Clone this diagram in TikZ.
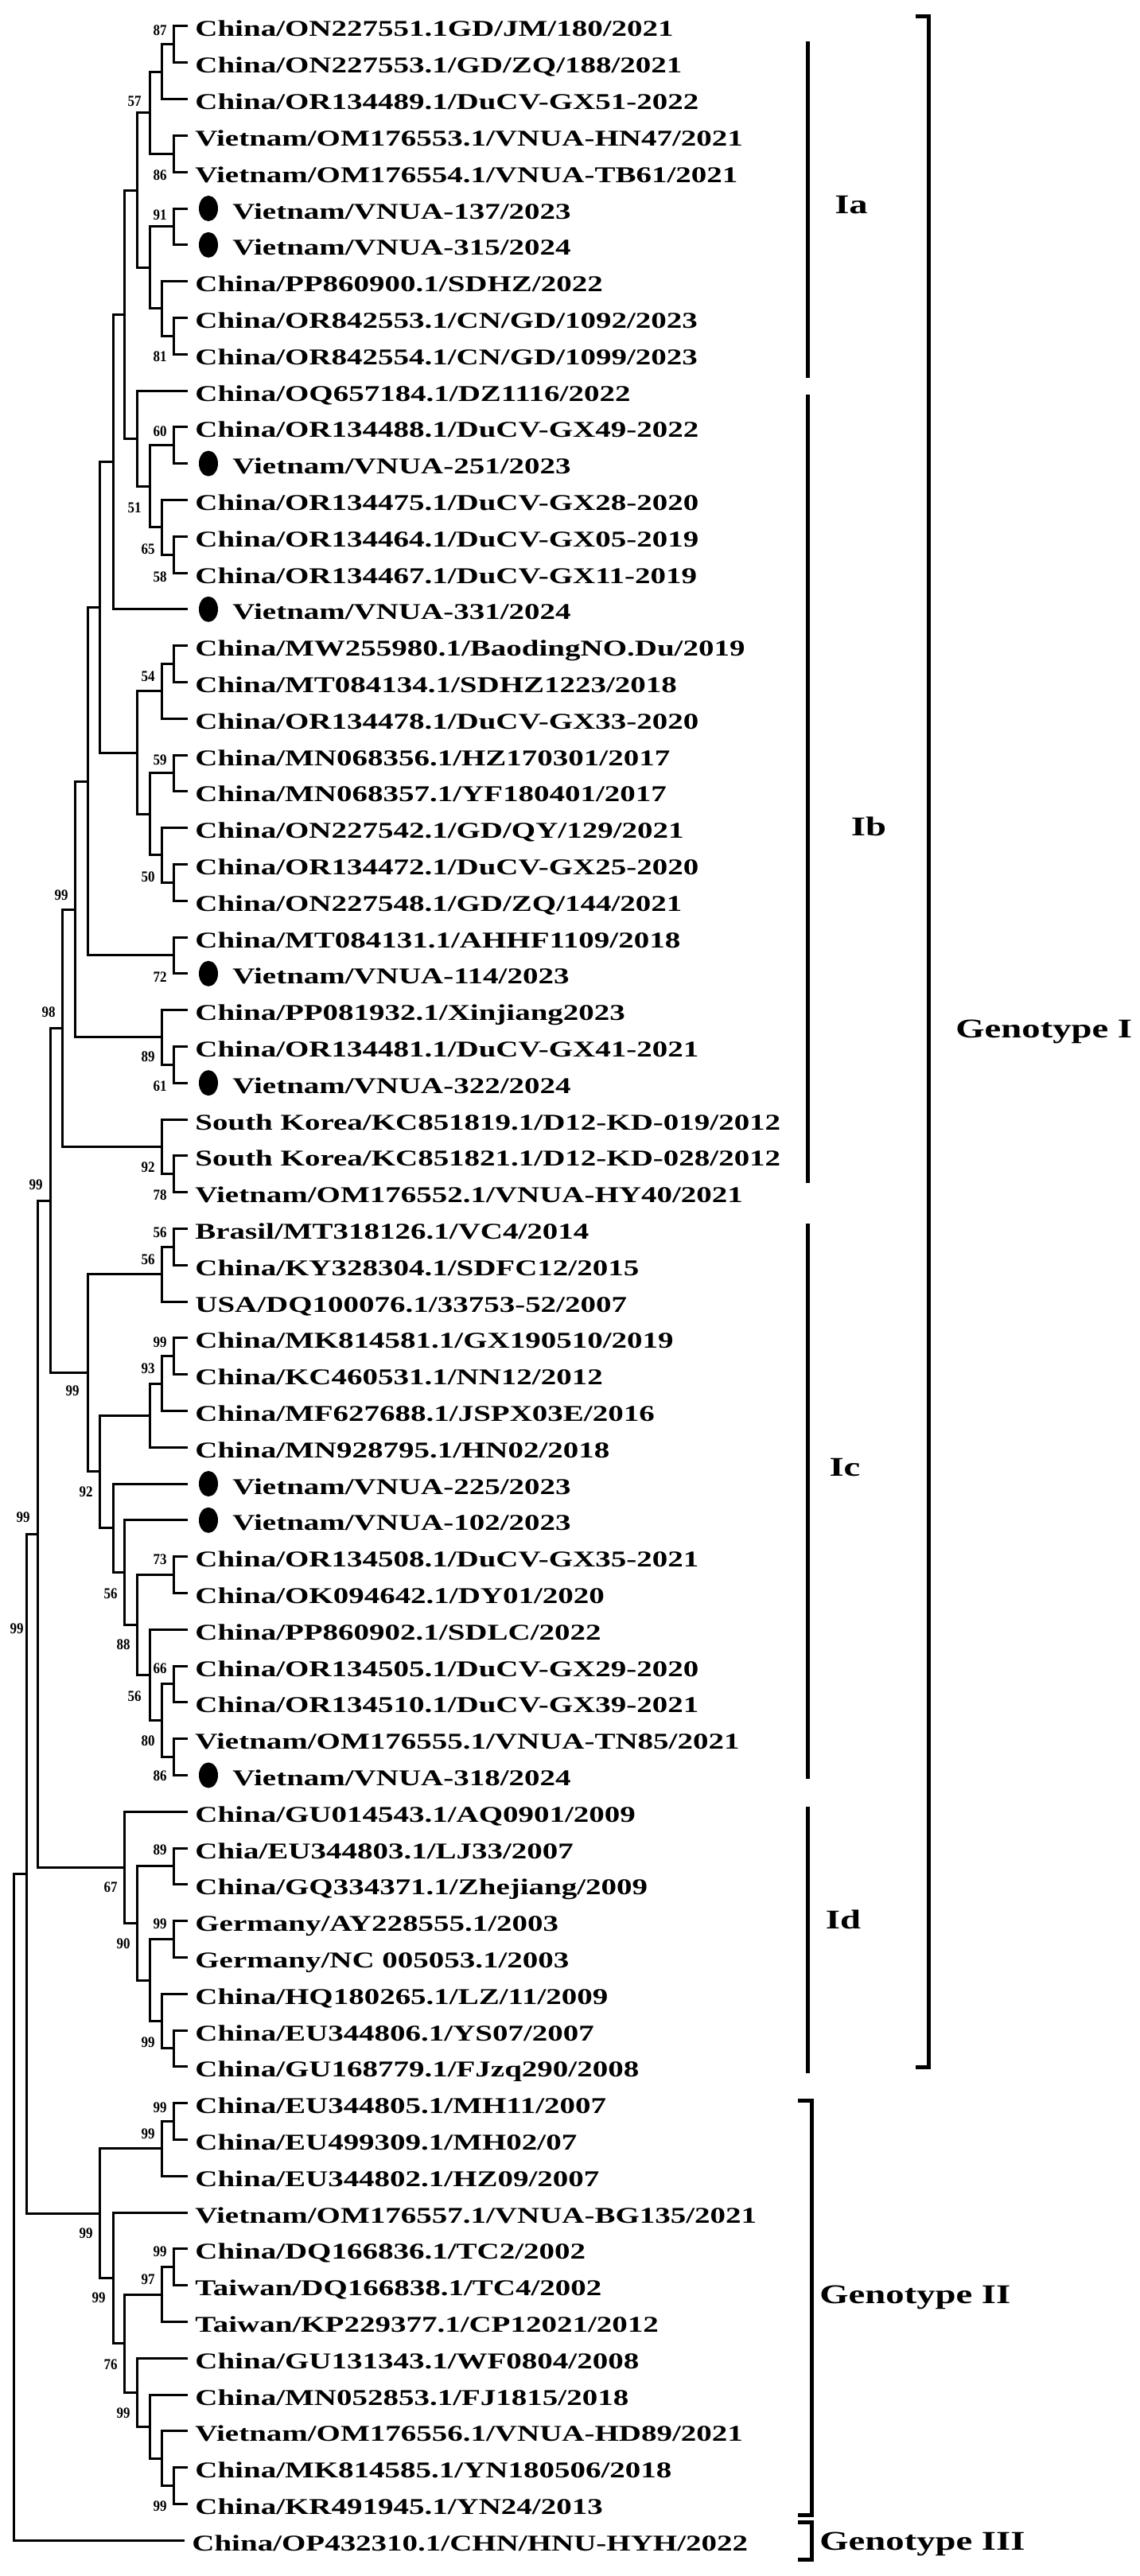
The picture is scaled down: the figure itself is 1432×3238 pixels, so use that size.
\documentclass[tikz,border=0pt]{standalone}
\usepackage{fontspec}
\setmainfont{Liberation Serif}[FakeStretch=1.373]
\newfontfamily\bootfamily{Liberation Serif}[FakeStretch=0.885]
\usepackage{tikz}
\usetikzlibrary{shapes}
\newcommand{\pxunit}{0.5pt}
\newcommand{\taxonfont}{\bfseries\fontsize{14.2}{14.2}\selectfont}
\newcommand{\bootfont}{\bootfamily\bfseries\fontsize{9.6}{9.6}\selectfont}
\newcommand{\cladefont}{\bfseries\fontsize{17}{17}\selectfont}
\tikzstyle{taxon}=[anchor=west,inner xsep=4.5pt,inner ysep=0pt,text height=15pt,text depth=2pt,font=\taxonfont]
\tikzstyle{isolate}=[ellipse,fill=black,minimum width=12pt,minimum height=16pt,inner sep=0pt]
\tikzstyle{boot}=[anchor=east,inner sep=0pt,font=\bootfont]
\tikzstyle{branch}=[line width=1.5pt]
\tikzstyle{cladebar}=[line width=2.5pt]
\tikzstyle{cladename}=[inner sep=0pt,font=\cladefont]
\begin{document}
\begin{tikzpicture}[x=\pxunit,y=-\pxunit]
    \useasboundingbox (0,0) rectangle (1432,3238);
    % taxa
    \node[taxon] (t1) at (236,33)     {China/ON227551.1GD/JM/180/2021};
    \node[taxon] (t2) at (236,78.8)   {China/ON227553.1/GD/ZQ/188/2021};
    \node[taxon] (t3) at (236,124.6)  {China/OR134489.1/DuCV-GX51-2022};
    \node[taxon] (t4) at (236,170.4)  {Vietnam/OM176553.1/VNUA-HN47/2021};
    \node[taxon] (t5) at (236,216.2)  {Vietnam/OM176554.1/VNUA-TB61/2021};
    \node[taxon] (t6) at (236,262)    {\hspace*{23.5pt}Vietnam/VNUA-137/2023};
    \node[taxon] (t7) at (236,307.8)  {\hspace*{23.5pt}Vietnam/VNUA-315/2024};
    \node[taxon] (t8) at (236,353.6)  {China/PP860900.1/SDHZ/2022};
    \node[taxon] (t9) at (236,399.4)  {China/OR842553.1/CN/GD/1092/2023};
    \node[taxon] (t10) at (236,445.2) {China/OR842554.1/CN/GD/1099/2023};
    \node[taxon] (t11) at (236,491)   {China/OQ657184.1/DZ1116/2022};
    \node[taxon] (t12) at (236,536.8) {China/OR134488.1/DuCV-GX49-2022};
    \node[taxon] (t13) at (236,582.6) {\hspace*{23.5pt}Vietnam/VNUA-251/2023};
    \node[taxon] (t14) at (236,628.4) {China/OR134475.1/DuCV-GX28-2020};
    \node[taxon] (t15) at (236,674.2) {China/OR134464.1/DuCV-GX05-2019};
    \node[taxon] (t16) at (236,720)   {China/OR134467.1/DuCV-GX11-2019};
    \node[taxon] (t17) at (236,765.8) {\hspace*{23.5pt}Vietnam/VNUA-331/2024};
    \node[taxon] (t18) at (236,811.6) {China/MW255980.1/BaodingNO.Du/2019};
    \node[taxon] (t19) at (236,857.4) {China/MT084134.1/SDHZ1223/2018};
    \node[taxon] (t20) at (236,903.2) {China/OR134478.1/DuCV-GX33-2020};
    \node[taxon] (t21) at (236,949)   {China/MN068356.1/HZ170301/2017};
    \node[taxon] (t22) at (236,994.8) {China/MN068357.1/YF180401/2017};
    \node[taxon] (t23) at (236,1040.6) {China/ON227542.1/GD/QY/129/2021};
    \node[taxon] (t24) at (236,1086.4) {China/OR134472.1/DuCV-GX25-2020};
    \node[taxon] (t25) at (236,1132.2) {China/ON227548.1/GD/ZQ/144/2021};
    \node[taxon] (t26) at (236,1178)   {China/MT084131.1/AHHF1109/2018};
    \node[taxon] (t27) at (236,1223.8) {\hspace*{23.5pt}Vietnam/VNUA-114/2023};
    \node[taxon] (t28) at (236,1269.6) {China/PP081932.1/Xinjiang2023};
    \node[taxon] (t29) at (236,1315.4) {China/OR134481.1/DuCV-GX41-2021};
    \node[taxon] (t30) at (236,1361.2) {\hspace*{23.5pt}Vietnam/VNUA-322/2024};
    \node[taxon] (t31) at (236,1407)   {South Korea/KC851819.1/D12-KD-019/2012};
    \node[taxon] (t32) at (236,1452.8) {South Korea/KC851821.1/D12-KD-028/2012};
    \node[taxon] (t33) at (236,1498.6) {Vietnam/OM176552.1/VNUA-HY40/2021};
    \node[taxon] (t34) at (236,1544.4) {Brasil/MT318126.1/VC4/2014};
    \node[taxon] (t35) at (236,1590.2) {China/KY328304.1/SDFC12/2015};
    \node[taxon] (t36) at (236,1636)   {USA/DQ100076.1/33753-52/2007};
    \node[taxon] (t37) at (236,1681.8) {China/MK814581.1/GX190510/2019};
    \node[taxon] (t38) at (236,1727.6) {China/KC460531.1/NN12/2012};
    \node[taxon] (t39) at (236,1773.4) {China/MF627688.1/JSPX03E/2016};
    \node[taxon] (t40) at (236,1819.2) {China/MN928795.1/HN02/2018};
    \node[taxon] (t41) at (236,1865)   {\hspace*{23.5pt}Vietnam/VNUA-225/2023};
    \node[taxon] (t42) at (236,1910.8) {\hspace*{23.5pt}Vietnam/VNUA-102/2023};
    \node[taxon] (t43) at (236,1956.6) {China/OR134508.1/DuCV-GX35-2021};
    \node[taxon] (t44) at (236,2002.4) {China/OK094642.1/DY01/2020};
    \node[taxon] (t45) at (236,2048.2) {China/PP860902.1/SDLC/2022};
    \node[taxon] (t46) at (236,2094)   {China/OR134505.1/DuCV-GX29-2020};
    \node[taxon] (t47) at (236,2139.8) {China/OR134510.1/DuCV-GX39-2021};
    \node[taxon] (t48) at (236,2185.6) {Vietnam/OM176555.1/VNUA-TN85/2021};
    \node[taxon] (t49) at (236,2231.4) {\hspace*{23.5pt}Vietnam/VNUA-318/2024};
    \node[taxon] (t50) at (236,2277.2) {China/GU014543.1/AQ0901/2009};
    \node[taxon] (t51) at (236,2323)   {Chia/EU344803.1/LJ33/2007};
    \node[taxon] (t52) at (236,2368.8) {China/GQ334371.1/Zhejiang/2009};
    \node[taxon] (t53) at (236,2414.6) {Germany/AY228555.1/2003};
    \node[taxon] (t54) at (236,2460.4) {Germany/NC 005053.1/2003};
    \node[taxon] (t55) at (236,2506.2) {China/HQ180265.1/LZ/11/2009};
    \node[taxon] (t56) at (236,2552)   {China/EU344806.1/YS07/2007};
    \node[taxon] (t57) at (236,2597.8) {China/GU168779.1/FJzq290/2008};
    \node[taxon] (t58) at (236,2643.6) {China/EU344805.1/MH11/2007};
    \node[taxon] (t59) at (236,2689.4) {China/EU499309.1/MH02/07};
    \node[taxon] (t60) at (236,2735.2) {China/EU344802.1/HZ09/2007};
    \node[taxon] (t61) at (236,2781)   {Vietnam/OM176557.1/VNUA-BG135/2021};
    \node[taxon] (t62) at (236,2826.8) {China/DQ166836.1/TC2/2002};
    \node[taxon] (t63) at (236,2872.6) {Taiwan/DQ166838.1/TC4/2002};
    \node[taxon] (t64) at (236,2918.4) {Taiwan/KP229377.1/CP12021/2012};
    \node[taxon] (t65) at (236,2964.2) {China/GU131343.1/WF0804/2008};
    \node[taxon] (t66) at (236,3010)   {China/MN052853.1/FJ1815/2018};
    \node[taxon] (t67) at (236,3055.8) {Vietnam/OM176556.1/VNUA-HD89/2021};
    \node[taxon] (t68) at (236,3101.6) {China/MK814585.1/YN180506/2018};
    \node[taxon] (t69) at (236,3147.4) {China/KR491945.1/YN24/2013};
    \node[taxon] (t70) at (232,3193.2) {China/OP432310.1/CHN/HNU-HYH/2022};
    % isolates of this study
    \foreach \k in {6,7,13,17,27,30,41,42,49}
        \node[isolate] (d\k) at ([xshift=13pt]t\k.west) {};
    % internal nodes, Ia
    \coordinate (a1) at (218,55.9);
    \coordinate (a2) at (203,90.25);
    \coordinate (a3) at (218,193.3);
    \coordinate (a4) at (188,141.8);
    \coordinate (a5) at (218,284.9);
    \coordinate (a6) at (218,422.3);
    \coordinate (a7) at (203,387.95);
    \coordinate (a8) at (188,336.4);
    \coordinate (a9) at (172,239.1);
    % Ib
    \coordinate (b1) at (218,559.7);
    \coordinate (b2) at (218,697.1);
    \coordinate (b3) at (203,662.75);
    \coordinate (b4) at (188,611.2);
    \coordinate (b5) at (172,551.1);
    \coordinate (b6) at (156,395.1);
    \coordinate (b7) at (142,580.45);
    \coordinate (b8) at (218,834.5);
    \coordinate (b9) at (203,868.85);
    \coordinate (b10) at (218,971.9);
    \coordinate (b11) at (218,1109.3);
    \coordinate (b12) at (203,1074.95);
    \coordinate (b13) at (188,1023.4);
    \coordinate (b14) at (172,946.1);
    \coordinate (b15) at (125,763.3);
    \coordinate (b16) at (218,1200.9);
    \coordinate (b17) at (110,982.1);
    \coordinate (b18) at (218,1338.3);
    \coordinate (b19) at (203,1303.95);
    \coordinate (b20) at (94,1143);
    \coordinate (b21) at (218,1475.7);
    \coordinate (b22) at (203,1441.35);
    \coordinate (b23) at (78,1292.2);
    % Ic
    \coordinate (c1) at (218,1567.3);
    \coordinate (c2) at (203,1601.65);
    \coordinate (c3) at (218,1704.7);
    \coordinate (c4) at (203,1739.05);
    \coordinate (c5) at (188,1779.1);
    \coordinate (c6) at (218,1979.5);
    \coordinate (c7) at (218,2116.9);
    \coordinate (c8) at (218,2208.5);
    \coordinate (c9) at (203,2162.7);
    \coordinate (c10) at (188,2105.45);
    \coordinate (c11) at (172,2042.5);
    \coordinate (c12) at (156,1976.65);
    \coordinate (c13) at (142,1920.8);
    \coordinate (c14) at (125,1849.95);
    \coordinate (c15) at (110,1725.8);
    \coordinate (c16) at (63,1509);
    % Id
    \coordinate (d1) at (218,2345.9);
    \coordinate (d2) at (218,2437.5);
    \coordinate (d3) at (218,2574.9);
    \coordinate (d4) at (203,2540.55);
    \coordinate (d5) at (188,2489);
    \coordinate (d6) at (172,2417.45);
    \coordinate (d7) at (156,2347.3);
    \coordinate (d8) at (47,1928.15);
    % genotype II and root
    \coordinate (e1) at (218,2666.5);
    \coordinate (e2) at (203,2700.85);
    \coordinate (e3) at (218,2849.7);
    \coordinate (e4) at (203,2884.05);
    \coordinate (e5) at (218,3124.5);
    \coordinate (e6) at (203,3090.15);
    \coordinate (e7) at (188,3050.1);
    \coordinate (e8) at (172,3007.15);
    \coordinate (e9) at (156,2945.6);
    \coordinate (e10) at (142,2863.3);
    \coordinate (e11) at (125,2782.1);
    \coordinate (f1) at (33,2355.1);
    \coordinate (root) at (17,2774.2);
    % branches
    \draw[branch] (t1) -| (a1) |- (t2);
    \draw[branch] (a1) -| (a2) |- (t3);
    \draw[branch] (t4) -| (a3) |- (t5);
    \draw[branch] (a2) -| (a4) |- (a3);
    \draw[branch] (t6) -| (a5) |- (t7);
    \draw[branch] (t9) -| (a6) |- (t10);
    \draw[branch] (t8) -| (a7) |- (a6);
    \draw[branch] (a5) -| (a8) |- (a7);
    \draw[branch] (a4) -| (a9) |- (a8);
    \draw[branch] (t12) -| (b1) |- (t13);
    \draw[branch] (t15) -| (b2) |- (t16);
    \draw[branch] (t14) -| (b3) |- (b2);
    \draw[branch] (b1) -| (b4) |- (b3);
    \draw[branch] (t11) -| (b5) |- (b4);
    \draw[branch] (a9) -| (b6) |- (b5);
    \draw[branch] (b6) -| (b7) |- (t17);
    \draw[branch] (t18) -| (b8) |- (t19);
    \draw[branch] (b8) -| (b9) |- (t20);
    \draw[branch] (t21) -| (b10) |- (t22);
    \draw[branch] (t24) -| (b11) |- (t25);
    \draw[branch] (t23) -| (b12) |- (b11);
    \draw[branch] (b10) -| (b13) |- (b12);
    \draw[branch] (b9) -| (b14) |- (b13);
    \draw[branch] (b7) -| (b15) |- (b14);
    \draw[branch] (t26) -| (b16) |- (t27);
    \draw[branch] (b15) -| (b17) |- (b16);
    \draw[branch] (t29) -| (b18) |- (t30);
    \draw[branch] (t28) -| (b19) |- (b18);
    \draw[branch] (b17) -| (b20) |- (b19);
    \draw[branch] (t32) -| (b21) |- (t33);
    \draw[branch] (t31) -| (b22) |- (b21);
    \draw[branch] (b20) -| (b23) |- (b22);
    \draw[branch] (t34) -| (c1) |- (t35);
    \draw[branch] (c1) -| (c2) |- (t36);
    \draw[branch] (t37) -| (c3) |- (t38);
    \draw[branch] (c3) -| (c4) |- (t39);
    \draw[branch] (c4) -| (c5) |- (t40);
    \draw[branch] (t43) -| (c6) |- (t44);
    \draw[branch] (t46) -| (c7) |- (t47);
    \draw[branch] (t48) -| (c8) |- (t49);
    \draw[branch] (c7) -| (c9) |- (c8);
    \draw[branch] (t45) -| (c10) |- (c9);
    \draw[branch] (c6) -| (c11) |- (c10);
    \draw[branch] (t42) -| (c12) |- (c11);
    \draw[branch] (t41) -| (c13) |- (c12);
    \draw[branch] (c5) -| (c14) |- (c13);
    \draw[branch] (c2) -| (c15) |- (c14);
    \draw[branch] (b23) -| (c16) |- (c15);
    \draw[branch] (t51) -| (d1) |- (t52);
    \draw[branch] (t53) -| (d2) |- (t54);
    \draw[branch] (t56) -| (d3) |- (t57);
    \draw[branch] (t55) -| (d4) |- (d3);
    \draw[branch] (d2) -| (d5) |- (d4);
    \draw[branch] (d1) -| (d6) |- (d5);
    \draw[branch] (t50) -| (d7) |- (d6);
    \draw[branch] (c16) -| (d8) |- (d7);
    \draw[branch] (t58) -| (e1) |- (t59);
    \draw[branch] (e1) -| (e2) |- (t60);
    \draw[branch] (t62) -| (e3) |- (t63);
    \draw[branch] (e3) -| (e4) |- (t64);
    \draw[branch] (t68) -| (e5) |- (t69);
    \draw[branch] (t67) -| (e6) |- (e5);
    \draw[branch] (t66) -| (e7) |- (e6);
    \draw[branch] (t65) -| (e8) |- (e7);
    \draw[branch] (e4) -| (e9) |- (e8);
    \draw[branch] (t61) -| (e10) |- (e9);
    \draw[branch] (e2) -| (e11) |- (e10);
    \draw[branch] (d8) -| (f1) |- (e11);
    \draw[branch] (f1) -| (root) |- (t70);
    % bootstrap values
    \node[boot] (s1) at (210,38) {87};
    \node[boot] (s2) at (178,127) {57};
    \node[boot] (s3) at (210,220) {86};
    \node[boot] (s4) at (210,270) {91};
    \node[boot] (s5) at (210,448) {81};
    \node[boot] (s6) at (210,542) {60};
    \node[boot] (s7) at (178,638) {51};
    \node[boot] (s8) at (195,690) {65};
    \node[boot] (s9) at (210,725) {58};
    \node[boot] (s10) at (195,850) {54};
    \node[boot] (s11) at (210,955) {59};
    \node[boot] (s12) at (195,1102) {50};
    \node[boot] (s13) at (86,1125) {99};
    \node[boot] (s14) at (210,1228) {72};
    \node[boot] (s15) at (70,1272) {98};
    \node[boot] (s16) at (195,1328) {89};
    \node[boot] (s17) at (210,1365) {61};
    \node[boot] (s18) at (195,1467) {92};
    \node[boot] (s19) at (54,1489) {99};
    \node[boot] (s20) at (210,1502) {78};
    \node[boot] (s21) at (210,1549) {56};
    \node[boot] (s22) at (195,1583) {56};
    \node[boot] (s23) at (210,1687) {99};
    \node[boot] (s24) at (195,1720) {93};
    \node[boot] (s25) at (100,1748) {99};
    \node[boot] (s26) at (117,1875) {92};
    \node[boot] (s27) at (38,1907) {99};
    \node[boot] (s28) at (210,1960) {73};
    \node[boot] (s29) at (148,2003) {56};
    \node[boot] (s30) at (30,2047) {99};
    \node[boot] (s31) at (164,2067) {88};
    \node[boot] (s32) at (210,2097) {66};
    \node[boot] (s33) at (178,2132) {56};
    \node[boot] (s34) at (195,2188) {80};
    \node[boot] (s35) at (210,2232) {86};
    \node[boot] (s36) at (210,2325) {89};
    \node[boot] (s37) at (148,2372) {67};
    \node[boot] (s38) at (210,2418) {99};
    \node[boot] (s39) at (164,2443) {90};
    \node[boot] (s40) at (195,2567) {99};
    \node[boot] (s41) at (210,2649) {99};
    \node[boot] (s42) at (195,2682) {99};
    \node[boot] (s43) at (117,2807) {99};
    \node[boot] (s44) at (210,2830) {99};
    \node[boot] (s45) at (195,2865) {97};
    \node[boot] (s46) at (133,2888) {99};
    \node[boot] (s47) at (148,2972) {76};
    \node[boot] (s48) at (164,3033) {99};
    \node[boot] (s49) at (210,3150) {99};
    % subgroup bars
    \draw[cladebar] (1015,52) -- (1015,475);
    \draw[cladebar] (1015,496) -- (1015,1487);
    \draw[cladebar] (1015,1538) -- (1015,2236);
    \draw[cladebar] (1015,2271) -- (1015,2606);
    \node[cladename] (Ia) at (1070,258) {Ia};
    \node[cladename] (Ib) at (1092,1039) {Ib};
    \node[cladename] (Ic) at (1062,1845) {Ic};
    \node[cladename] (Id) at (1060,2413) {Id};
    % genotype brackets
    \draw[cladebar] (1151,21) -- (1167,21) -- (1167,2598) -- (1151,2598);
    \draw[cladebar] (1003,2640) -- (1020,2640) -- (1020,3161) -- (1003,3161);
    \draw[cladebar] (1003,3170) -- (1020,3170) -- (1020,3217) -- (1003,3217);
    \node[cladename,anchor=west] (GI) at (1201,1297) {Genotype I};
    \node[cladename,anchor=west] (GII) at (1030,2888) {Genotype II};
    \node[cladename,anchor=west] (GIII) at (1030,3198) {Genotype III};
\end{tikzpicture}
\end{document}
